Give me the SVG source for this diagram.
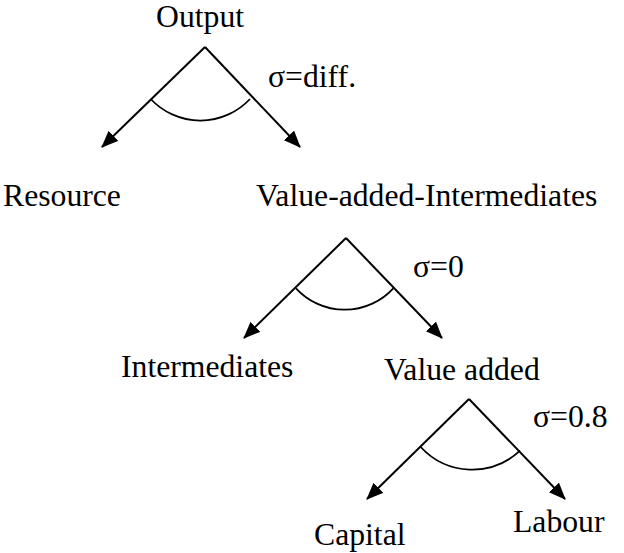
<svg xmlns="http://www.w3.org/2000/svg" width="624" height="553" viewBox="0 0 624 553">
<style>
text{font-family:"Liberation Serif","Times New Roman",serif;font-size:31.7px;fill:#000}
.edge{stroke:#000;stroke-width:2;fill:none;marker-end:url(#ah)}
.arc{stroke:#000;stroke-width:1.8;fill:none}
</style>
<defs>
<marker id="ah" markerUnits="userSpaceOnUse" markerWidth="18" markerHeight="16" refX="16" refY="7" orient="auto" viewBox="0 0 18 16">
<path d="M0,0 L17,7 L0,14 Z" fill="#000"/>
</marker>
</defs>
<rect width="624" height="553" fill="#fff"/>
<g id="connectors">
<line class="edge" x1="205" y1="47" x2="102" y2="147"/>
<line class="edge" x1="205" y1="47" x2="300" y2="147"/>
<path class="arc" d="M150.7,99 A68,68 0 0 0 250,99"/>
<line class="edge" x1="346" y1="238" x2="244" y2="338"/>
<line class="edge" x1="346" y1="238" x2="442" y2="338"/>
<path class="arc" d="M296,288.3 A66,66 0 0 0 393.3,288.3"/>
<line class="edge" x1="469" y1="399" x2="367" y2="499"/>
<line class="edge" x1="469" y1="399" x2="565" y2="499"/>
<path class="arc" d="M420.7,447 A70,70 0 0 0 520,450.7"/>
</g>
<g id="sigma-labels">
<text id="sigma1" x="268" y="87">σ=diff.</text>
<text id="sigma2" x="413" y="277">σ=0</text>
<text id="sigma3" x="533" y="427">σ=0.8</text>
</g>
<g id="output"><text x="156" y="26.5">Output</text></g>
<g id="resource"><text x="3" y="206">Resource</text></g>
<g id="va-intermediates"><text x="256" y="206">Value-added-Intermediates</text></g>
<g id="intermediates"><text x="121" y="377">Intermediates</text></g>
<g id="value-added"><text x="384" y="380">Value added</text></g>
<g id="capital"><text x="314" y="545">Capital</text></g>
<g id="labour"><text x="513" y="532">Labour</text></g>
</svg>
